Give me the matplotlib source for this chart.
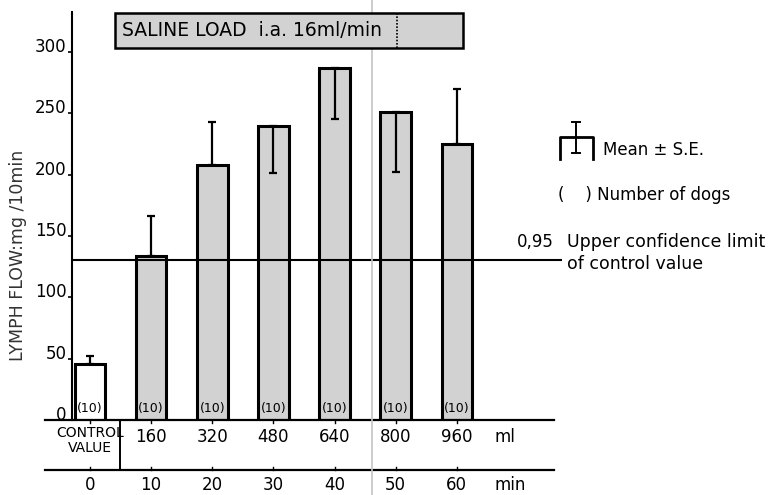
import numpy as np
import matplotlib
matplotlib.use("Agg")
import matplotlib.pyplot as plt

# --- data ---
minutes = [0, 10, 20, 30, 40, 50, 60]
volume_labels = ["CONTROL\nVALUE", "160", "320", "480", "640", "800", "960"]
lymph_flow = [45.5, 134, 208, 240, 287, 251, 225]
se_up = [7, 32, 35, 0, 0, 0, 45]
se_down = [0, 0, 0, 39, 42, 49, 0]
n_dogs = ["(10)"] * 7
upper_conf = 130
yticks = [0, 50, 100, 150, 200, 250, 300]

W, H = 777, 495
plt.rcParams['font.family'] = ['DejaVu Sans']
fig = plt.figure(figsize=(W / 100, H / 100), dpi=100)

def fx(px):
    return px / W

def fy(py):
    return 1 - py / H

# main axes, placed so data lands where it is in the scan
ax = fig.add_axes([fx(72), fy(420), fx(562) - fx(72), fy(12) - fy(420)])
ax.set_xlim(-2.94, 77.2)
ax.set_ylim(0, 332.5)

grey = '#d2d2d2'
faces = ['white'] + [grey] * 6
ax.bar(minutes, lymph_flow, width=5, color=faces, edgecolor='black',
       linewidth=2.2, zorder=2)
ax.errorbar(minutes, lymph_flow, yerr=[se_down, se_up], fmt='none',
            ecolor='black', elinewidth=1.6, capsize=3, capthick=1.6, zorder=3)
for x, lab in zip(minutes, n_dogs):
    ax.text(x, 9, lab, ha='center', va='center', fontsize=9, zorder=4)

ax.axhline(upper_conf, color='black', lw=1.5, zorder=4)

ax.spines['top'].set_visible(False)
ax.spines['right'].set_visible(False)
ax.spines['bottom'].set_visible(False)
ax.spines['left'].set_linewidth(1.5)
ax.set_xticks([])
ax.set_yticks(yticks)
ax.tick_params(axis='y', length=3, width=1.2, labelsize=12, pad=1)
for t in ax.get_yticklabels():
    t.set_verticalalignment('baseline')

# table lines under the bars
y_row1, y_line2, y_row2 = -13.9, -40.7, -53
ax.plot([-7.3, 75.9], [0, 0], color='black', lw=1.6, clip_on=False)
ax.plot([-7.3, 75.9], [y_line2, y_line2], color='black', lw=1.6, clip_on=False)
ax.plot([4.9, 4.9], [0, y_line2], color='black', lw=1.4, clip_on=False)
for x in minutes:
    ax.plot([x, x], [0, -2.5], color='black', lw=1, clip_on=False)
    ax.plot([x, x], [y_line2, y_line2 + 2.5], color='black', lw=1, clip_on=False)
for x, lab in zip(minutes, volume_labels):
    if '\n' in lab:
        ax.text(x, -16.8, lab, ha='center', va='center', fontsize=10,
                linespacing=1.05, clip_on=False)
    else:
        ax.text(x, y_row1, lab, ha='center', va='center', fontsize=12, clip_on=False)
for x in minutes:
    ax.text(x, y_row2, str(x), ha='center', va='center', fontsize=12, clip_on=False)
ax.text(67.8, y_row1, "ml", ha='center', va='center', fontsize=12, clip_on=False)
ax.text(68.7, y_row2, "min", ha='center', va='center', fontsize=12, clip_on=False)

# overlay in pixel coords for annotations
ov = fig.add_axes([0, 0, 1, 1], facecolor='none')
ov.set_xlim(0, W)
ov.set_ylim(H, 0)
ov.axis('off')

# y label placed like the scan
ov.text(18, 255, "LYMPH FLOW:mg /10min", rotation=90, ha='center', va='center',
        fontsize=12.5, color='#333333')

# faint scan fold line
ov.plot([372, 372], [0, H], color='#c4c4c4', lw=1.2, zorder=0)

# saline load box
ov.add_patch(plt.Rectangle((115, 13), 348, 35, facecolor=grey,
                           edgecolor='black', lw=1.8, zorder=5))
ov.plot([397, 397], [13, 48], color='black', lw=1.2, ls=(0, (1, 1)), zorder=6)
ov.text(122, 31, "SALINE LOAD  i.a. 16ml/min", ha='left', va='center',
        fontsize=13.5, zorder=7)

# legend symbol
ov.plot([560, 560, 593, 593], [159, 137, 137, 159], color='black', lw=2, zorder=5)
ov.plot([576, 576], [122, 153], color='black', lw=1.4, zorder=5)
ov.plot([572, 580], [122, 122], color='black', lw=1.4, zorder=5)
ov.plot([572, 580], [153, 153], color='black', lw=1.4, zorder=5)
ov.text(603, 150, "Mean ± S.E.", ha='left', va='center', fontsize=12)
ov.text(558, 195, "(    ) Number of dogs", ha='left', va='center', fontsize=12)
ov.text(517, 242, "0,95", ha='left', va='center', fontsize=12)
ov.text(567, 242, "Upper confidence limit", ha='left', va='center', fontsize=12.5)
ov.text(567, 264, "of control value", ha='left', va='center', fontsize=12.5)

fig.savefig("out.png", dpi=100)
